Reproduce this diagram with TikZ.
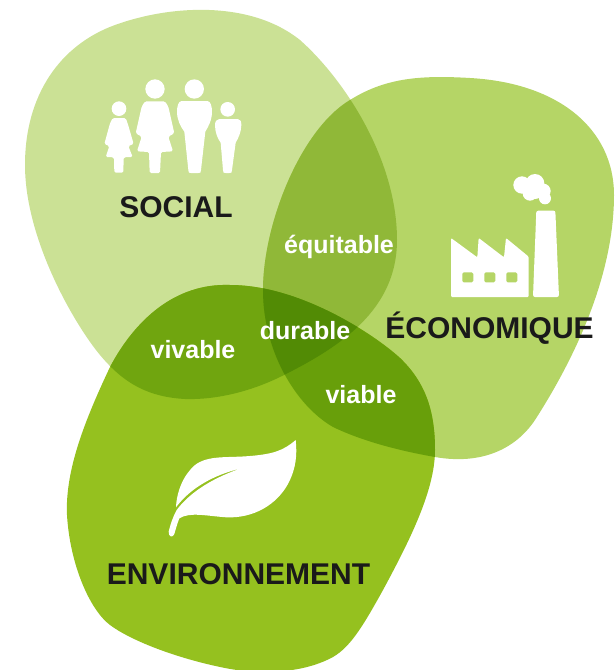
\documentclass[tikz,border=0pt]{standalone}
\usepackage{fontspec}
\setmainfont{Liberation Sans}
\definecolor{soc}{HTML}{CBE195}
\definecolor{eco}{HTML}{B5D566}
\definecolor{env}{HTML}{95C11F}
\definecolor{se}{HTML}{90B838}
\definecolor{sv}{HTML}{70A50F}
\definecolor{ev}{HTML}{689F0A}
\definecolor{sev}{HTML}{528B05}
\definecolor{ink}{HTML}{1A1A1A}
\newcommand{\socblob}{(25,165) .. controls (25,95) and (60,45) .. (115,25) .. controls (170,5) and (250,0) .. (300,40) .. controls (345,80) and (397,160) .. (397,240) .. controls (397,310) and (340,347) .. (282,376) .. controls (250,392) and (215,400) .. (185,399) .. controls (150,397) and (125,385) .. (100,355) .. controls (75,325) and (25,240) .. (25,165) -- cycle}
\newcommand{\ecoblob}{(263,290) .. controls (263,225) and (300,130) .. (350,100) .. controls (385,78) and (420,75) .. (470,78) .. controls (560,83) and (614,130) .. (614,195) .. controls (614,270) and (580,350) .. (535,420) .. controls (515,450) and (480,465) .. (435,457) .. controls (395,450) and (360,440) .. (333,427) .. controls (295,405) and (263,350) .. (263,290) -- cycle}
\newcommand{\envblob}{(230,285) .. controls (175,283) and (135,320) .. (110,367) .. controls (85,420) and (65,470) .. (67,515) .. controls (70,565) and (90,610) .. (110,625) .. controls (130,640) and (175,658) .. (225,668) .. controls (255,674) and (300,675) .. (333,657) .. controls (350,647) and (362,628) .. (383,590) .. controls (410,540) and (435,490) .. (435,450) .. controls (435,410) and (425,382) .. (400,358) .. controls (375,335) and (300,285) .. (230,285) -- cycle}
\tikzset{
 big/.style={text=ink,font=\bfseries\fontsize{30}{32}\selectfont,inner sep=0pt,anchor=base},
 small/.style={text=white,font=\bfseries\fontsize{25}{27}\selectfont,inner sep=0pt,anchor=base},
 icon/.style={fill=white,draw=none}
}
\begin{document}
\begin{tikzpicture}[x=1pt,y=-1pt]
\useasboundingbox (0,0) rectangle (614,670);
\fill[soc] \socblob;
\fill[eco] \ecoblob;
\fill[env] \envblob;
\begin{scope}\clip \socblob; \fill[se] \ecoblob; \fill[sv] \envblob;\end{scope}
\begin{scope}\clip \ecoblob; \fill[ev] \envblob;\end{scope}
\begin{scope}\clip \socblob; \clip \ecoblob; \fill[sev] \envblob;\end{scope}
% people
\begin{scope}[shift={(90,70)},scale=1/3]
\fill[icon] (87,116) circle (22);
\fill[icon] (195,57) circle (29);
\fill[icon] (313,57) circle (29);
\fill[icon] (413,118) circle (22);
\fill[icon,rounded corners=1.5pt] (68,144)--(107,144)--(113,160)--(131,222)--(115,228)--(128,261)--(101,262)--(100,308)--(73,308)--(72,262)--(47,261)--(58,228)--(43,222)--(60,160)--cycle;
\fill[icon,rounded corners=1.5pt] (165,94)--(225,94)--(235,110)--(253,190)--(235,200)--(249,244)--(213,246)--(210,309)--(179,309)--(177,246)--(141,244)--(155,200)--(137,190)--(155,110)--cycle;
\fill[icon] (275,93) -- (352,93) .. controls (362,93) and (366,110) .. (366,125) .. controls (366,150) and (355,170) .. (346,185) -- (333,300) .. controls (332,309) .. (325,309) -- (303,309) .. controls (296,309) .. (295,300) -- (283,185) .. controls (272,170) and (261,150) .. (261,125) .. controls (261,110) and (265,93) .. (275,93) -- cycle;
\fill[icon] (388,147) -- (443,147) .. controls (452,147) and (454,155) .. (454,165) .. controls (454,185) and (445,205) .. (437,218) -- (426,300) .. controls (425,309) .. (418,309) -- (407,309) .. controls (400,309) .. (399,300) -- (392,218) .. controls (382,205) and (375,185) .. (375,165) .. controls (375,155) and (380,147) .. (388,147) -- cycle;
\end{scope}
% factory
\begin{scope}[shift={(440,165)},scale=1/3]
\fill[icon,rounded corners=1pt] (33,219)--(112,277)--(116,219)--(192,277)--(198,219)--(266,275)--(266,396)--(33,396)--cycle;
\fill[eco,rounded corners=1.5pt] (67,322) rectangle (100,352);
\fill[eco,rounded corners=1.5pt] (133,322) rectangle (166,352);
\fill[eco,rounded corners=1.5pt] (199,322) rectangle (232,352);
\fill[icon,rounded corners=2pt] (289,137)--(346,137)--(357,396)--(279,396)--cycle;
\fill[icon] (246,60) circle (26);
\fill[icon] (285,55) circle (28);
\fill[icon] (310,78) circle (22);
\fill[icon] (315,100) circle (18);
\fill[icon] (270,85) circle (22);
\fill[icon] (285,78) circle (24);
\end{scope}
% leaf
\begin{scope}[shift={(160,430)},scale=1/3]
\fill[icon] (407,30) .. controls (370,62) and (340,72) .. (270,78) .. controls (200,84) and (145,75) .. (105,105)
 .. controls (70,135) and (50,185) .. (48,232)
 .. controls (90,175) and (160,135) .. (243,115)
 .. controls (170,140) and (95,180) .. (50,240)
 .. controls (40,258) and (32,280) .. (26,305)
 .. controls (25,320) and (38,325) .. (43,312)
 .. controls (48,295) and (52,280) .. (58,265)
 .. controls (90,245) and (140,258) .. (200,262)
 .. controls (280,265) and (350,225) .. (385,160)
 .. controls (408,115) and (412,75) .. (407,30) -- cycle;
\end{scope}
\node[big] (social) at (176,217) {SOCIAL};
\node[big] (econ) at (489.5,338) {ÉCONOMIQUE};
\node[big] (envn) at (238.5,584) {ENVIRONNEMENT};
\node[small] (equit) at (339,253) {équitable};
\node[small] (viva) at (193,358) {vivable};
\node[small] (dura) at (305,339) {durable};
\node[small] (viab) at (361,403) {viable};
\end{tikzpicture}
\end{document}
